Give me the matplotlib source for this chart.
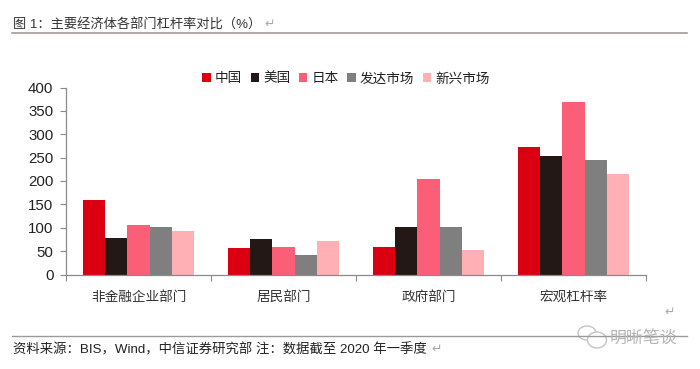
import matplotlib
matplotlib.use("Agg")
import matplotlib.pyplot as plt
from matplotlib.patches import Ellipse
import numpy as np

FONTS = ['Liberation Sans', 'Noto Sans CJK SC', 'DejaVu Sans']
plt.rcParams['font.family'] = FONTS

categories = ['非金融企业部门', '居民部门', '政府部门', '宏观杠杆率']
series_names = ['中国', '美国', '日本', '发达市场', '新兴市场']
china = [159, 56, 58, 273]
usa = [78, 75, 101, 254]
japan = [105, 59, 205, 370]
developed = [102, 41, 101, 244]
emerging = [92, 72, 52, 215]
values = [china, usa, japan, developed, emerging]
colors = ['#DA0012', '#231815', '#FB5F78', '#7F7F7F', '#FFB0B5']
yticks = [0, 50, 100, 150, 200, 250, 300, 350, 400]

W, H = 700, 369
fig = plt.figure(figsize=(W / 100, H / 100), dpi=100, facecolor='white')
L, R, T, B = 66, 646, 87.5, 274.5
ax = fig.add_axes([L / W, 1 - B / H, (R - L) / W, (B - T) / H])

x = np.arange(len(categories))
bw = 0.153
for i, (name, vals, c) in enumerate(zip(series_names, values, colors)):
    ax.bar(x + (i - 2) * bw, vals, bw, color=c, label=name, linewidth=0)

ax.set_xlim(-0.5, 3.5)
ax.set_ylim(0, 400)
ax.set_yticks(yticks)
ax.set_xticks(np.arange(-0.5, 4, 1))
ax.set_xticklabels([])
ax.tick_params(axis='y', length=4, width=0.8, color='#8a8a8a', labelsize=10.8,
               labelcolor='#222222', pad=5)
ax.tick_params(axis='x', length=4, width=0.8, color='#8a8a8a', direction='out')
for s in ['top', 'right']:
    ax.spines[s].set_visible(False)
for s in ['left', 'bottom']:
    ax.spines[s].set_color('#8a8a8a')
    ax.spines[s].set_linewidth(0.9)
for xi, cat in zip(x, categories):
    ax.annotate(cat, (xi, 0), xycoords=('data', 'axes fraction'), xytext=(0, -16),
                textcoords='offset points', ha='center', va='center',
                fontsize=9.8, color='#333333')

ax.legend(loc='upper center', bbox_to_anchor=(0.483, 1.122), ncol=5, frameon=False,
          fontsize=9.8, handlelength=0.6, handleheight=0.6, handletextpad=0.3,
          columnspacing=0.65, labelcolor='#222222', borderpad=0)

ov = fig.add_axes([0, 0, 1, 1], facecolor='none')
ov.set_xlim(0, W)
ov.set_ylim(H, 0)
ov.axis('off')
ov.plot([12, 687], [33, 33], color='#a89a9a', lw=1.2)
ov.plot([12, 687], [336, 336], color='#9a9a9a', lw=1.0)
ov.text(13, 25, '图 1：主要经济体各部门杠杆率对比（%）', fontsize=9.5, color='#333333',
        ha='left', va='center')
ov.text(264, 24.5, '↵', fontsize=9, color='#aaaaaa', ha='left', va='center',
        family='DejaVu Sans')
ov.text(13, 349.5, '资料来源：BIS，Wind，中信证券研究部 注：数据截至 2020 年一季度',
        fontsize=9.6, color='#222222', ha='left', va='center')
ov.text(431, 349, '↵', fontsize=9, color='#aaaaaa', ha='left', va='center',
        family='DejaVu Sans')
ov.text(670, 312, '↵', fontsize=9, color='#aaaaaa', ha='center', va='center',
        family='DejaVu Sans')
ov.add_patch(Ellipse((587, 333), 18, 14, fill=True, fc='white', ec='#c4c4c4', lw=1))
ov.add_patch(Ellipse((597, 340), 19, 16, fill=True, fc='white', ec='#c4c4c4', lw=1))
ov.text(610, 338, '明晰笔谈', fontsize=12.2, color='#b5b5b5', ha='left', va='center')

fig.savefig('out.png', dpi=100)
